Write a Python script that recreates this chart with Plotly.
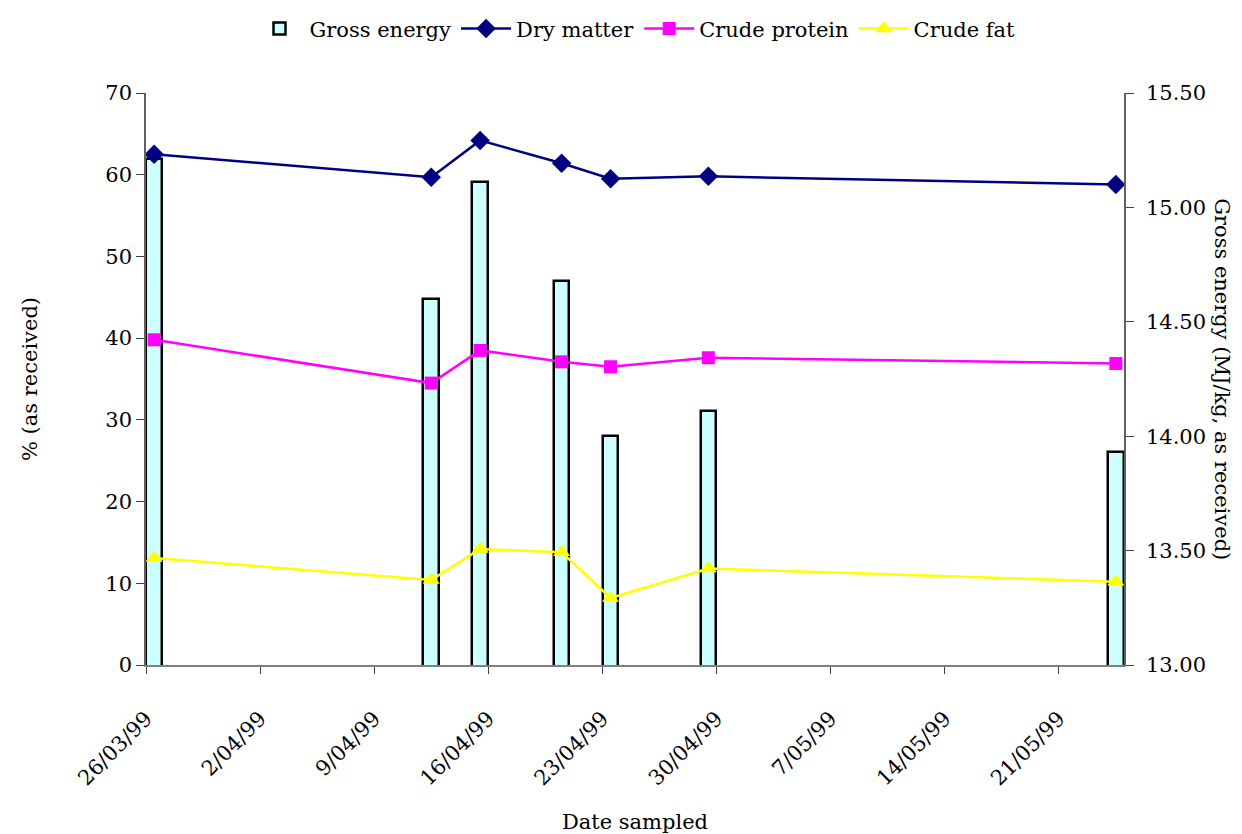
import plotly.graph_objects as go
import pandas as pd

dates = ["1999-03-26", "1999-04-12", "1999-04-15", "1999-04-20", "1999-04-23", "1999-04-29", "1999-05-24"]
gross_energy = [15.21, 14.60, 15.11, 14.68, 14.00, 14.11, 13.93]
dry_matter = [62.5, 59.7, 64.2, 61.4, 59.5, 59.8, 58.8]
crude_protein = [39.8, 34.5, 38.5, 37.1, 36.5, 37.6, 36.9]
crude_fat = [13.1, 10.4, 14.2, 13.8, 8.2, 11.8, 10.2]

# Excel date axis: each day occupies one slot, marks sit at the slot centre
x = pd.to_datetime(dates) + pd.Timedelta(hours=12)
day_ms = 86400000

FONT = "DejaVu Serif"
FS = 21

fig = go.Figure()
fig.add_trace(go.Bar(
    x=x, y=gross_energy, name="Gross energy", yaxis="y",
    width=day_ms * 0.96,
    marker=dict(color="#CCFFFF", line=dict(color="black", width=2.5)),
))
fig.add_trace(go.Scatter(
    x=x, y=dry_matter, name="Dry matter", yaxis="y2", mode="lines+markers",
    line=dict(color="#000080", width=2.5),
    marker=dict(symbol="diamond", size=15, color="#000080"),
))
fig.add_trace(go.Scatter(
    x=x, y=crude_protein, name="Crude protein", yaxis="y2", mode="lines+markers",
    line=dict(color="#FF00FF", width=2.5),
    marker=dict(symbol="square", size=13, color="#FF00FF"),
))
fig.add_trace(go.Scatter(
    x=x, y=crude_fat, name="Crude fat", yaxis="y2", mode="lines+markers",
    line=dict(color="#FFFF00", width=2.5),
    marker=dict(symbol="triangle-up", size=15, color="#FFFF00"),
))

fig.update_layout(
    width=1242, height=834,
    margin=dict(l=146, r=118, t=93, b=169, autoexpand=False),
    paper_bgcolor="white", plot_bgcolor="white",
    font=dict(family=FONT, size=FS, color="black"),
    showlegend=True,
    legend=dict(orientation="h", x=0.5, xanchor="center", y=0.99, yref="container",
                yanchor="top", font=dict(family=FONT, size=FS), traceorder="normal",
                itemwidth=50, bgcolor="rgba(0,0,0,0)"),
    bargap=0,
    xaxis=dict(
        type="date", automargin=False,
        range=["1999-03-26", "1999-05-25"],
        tick0="1999-03-26", dtick=7 * day_ms,
        tickformat="%-d/%m/%y", tickangle=-45,
        ticks="outside", ticklen=7, tickcolor="#404040",
        ticklabelstandoff=24,
        tickfont=dict(family=FONT, size=FS),
        showline=True, linecolor="#808080", linewidth=2,
        showgrid=False, zeroline=False,
        title=dict(text="Date sampled", font=dict(family=FONT, size=FS), standoff=32),
    ),
    yaxis=dict(
        side="right", range=[13, 15.5], dtick=0.5, tickformat=".2f", automargin=False,
        ticks="outside", ticklen=8, tickcolor="#404040",
        ticklabelstandoff=8,
        tickfont=dict(family=FONT, size=FS),
        showline=True, linecolor="#606060", linewidth=1.5,
        showgrid=False, zeroline=False,
    ),
    yaxis2=dict(
        overlaying="y", side="left", range=[0, 70], dtick=10, automargin=False,
        ticks="outside", ticklen=8, tickcolor="#404040",
        tickfont=dict(family=FONT, size=FS),
        showline=True, linecolor="#606060", linewidth=1.5,
        showgrid=False, zeroline=False,
        title=dict(text="% (as received)", font=dict(family=FONT, size=FS), standoff=62),
    ),
    yaxis3=dict(
        overlaying="y", side="right", range=[13, 15.5], dtick=0.5,
        ticks="inside", ticklen=8, tickcolor="#404040",
        showticklabels=False, showline=False, showgrid=False, zeroline=False,
    ),
    annotations=[dict(
        text="Gross energy (MJ/kg, as received)", textangle=90,
        xref="paper", yref="paper", x=1.100, y=0.5, xanchor="center", yanchor="middle",
        showarrow=False, font=dict(size=FS, family=FONT),
    )],
)

fig.write_html("out.html")
